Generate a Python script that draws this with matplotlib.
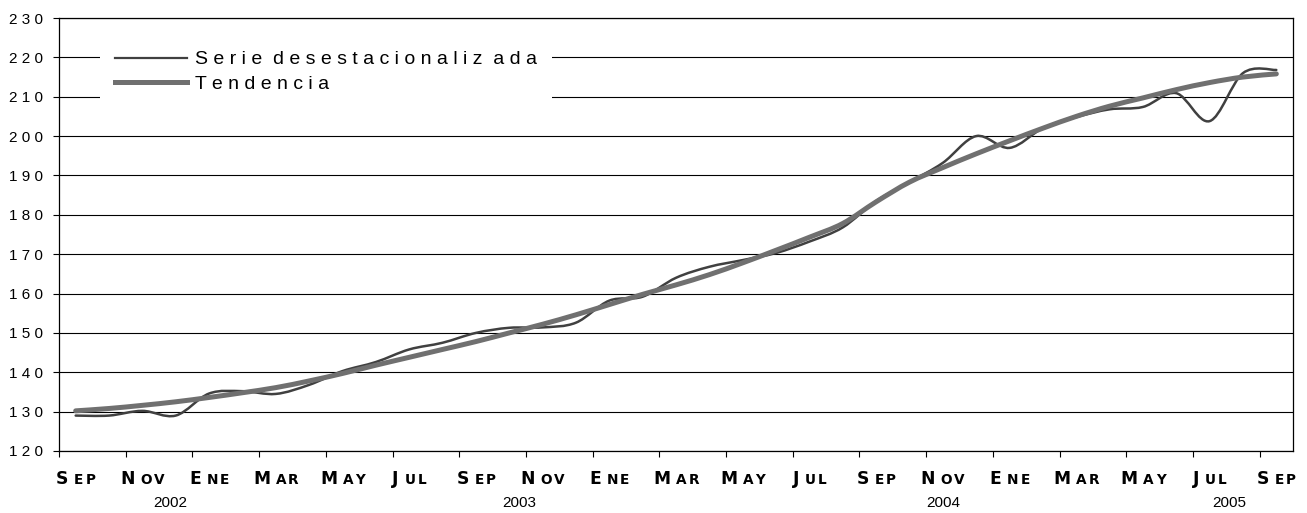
import numpy as np
import matplotlib
matplotlib.use("Agg")
import matplotlib.pyplot as plt
from matplotlib.path import Path
from matplotlib.patches import PathPatch
from matplotlib.lines import Line2D
from matplotlib.offsetbox import TextArea, HPacker, AnnotationBbox

plt.rcParams['font.family'] = ['Liberation Sans', 'DejaVu Sans']

# monthly values, Sep 2002 .. Sep 2005
serie = [129.0, 129.0, 130.2, 129.0, 134.6, 135.2, 134.5, 136.8, 140.3, 142.6,
         145.8, 147.5, 150.0, 151.3, 151.4, 152.6, 158.2, 159.2, 164.0, 166.8,
         168.5, 170.3, 173.2, 176.8, 183.5, 188.3, 193.2, 200.0, 197.0, 202.0,
         204.8, 206.8, 207.4, 210.9, 203.8, 216.0, 216.8]
tendencia = [130.2, 130.8, 131.6, 132.5, 133.6, 134.8, 136.1, 137.8, 139.7, 141.8,
             143.8, 145.8, 147.8, 150.0, 152.2, 154.6, 157.2, 159.8, 162.2, 164.8,
             167.8, 171.0, 174.3, 177.8, 183.3, 188.3, 192.0, 195.5, 198.8, 202.0,
             205.0, 207.6, 209.7, 211.8, 213.6, 215.0, 215.8]

month_labels = ['SEP', 'NOV', 'ENE', 'MAR', 'MAY', 'JUL'] * 3 + ['SEP']
years = ['2002', '2003', '2004', '2005']
year_pos = [2.85, 13.3, 26.0, 34.6]
yticks = list(range(120, 231, 10))

c_serie = '#404040'
c_trend = '#707070'


def smooth_path(xs, ys):
    """ Bezier path through the points, like a spreadsheet 'smoothed line'. """
    pts = np.column_stack([xs, ys]).astype(float)
    n = len(pts)
    verts = [pts[0]]
    codes = [Path.MOVETO]
    for i in range(n - 1):
        p0 = pts[max(i - 1, 0)]
        p1 = pts[i]
        p2 = pts[i + 1]
        p3 = pts[min(i + 2, n - 1)]
        verts += [p1 + (p2 - p0) / 6, p2 - (p3 - p1) / 6, p2]
        codes += [Path.CURVE4] * 3
    return Path(verts, codes)


fig = plt.figure(figsize=(13.07, 5.13), dpi=100)
ax = fig.add_axes([59 / 1307, 1 - 451 / 513, 1234 / 1307, 433 / 513])

x = np.arange(len(serie))
ax.add_patch(PathPatch(smooth_path(x, serie), fill=False, edgecolor=c_serie,
                       lw=1.8, capstyle='round', joinstyle='round', zorder=3))
ax.add_patch(PathPatch(smooth_path(x, tendencia), fill=False, edgecolor=c_trend,
                       lw=3.6, capstyle='round', joinstyle='round', zorder=4))

ax.set_xlim(-0.5, len(serie) - 0.5)
ax.set_ylim(120, 230)

# y axis
ax.set_yticks(yticks)
ax.set_yticklabels([' '.join(str(v)) for v in yticks], fontsize=11)
ax.yaxis.grid(True, color='black', lw=0.8)
ax.set_axisbelow(True)

# x axis: ticks between categories, labels drawn separately
ax.set_xticks(np.arange(-0.5, len(serie) - 1, 2))
ax.set_xticklabels([])
ax.tick_params(direction='out', length=4.5, width=0.8, color='black', pad=7)
for s in ax.spines.values():
    s.set_color('black')
    s.set_linewidth(0.9)

# small caps month labels
for k, lab in enumerate(month_labels):
    big = TextArea(lab[0], textprops=dict(fontsize=12.3, fontweight='bold',
                                          family='DejaVu Sans'))
    smalls = [TextArea(ch, textprops=dict(fontsize=9.8, fontweight='bold',
                                          family='DejaVu Sans')) for ch in lab[1:]]
    rest = HPacker(children=smalls, pad=0, sep=1.5, align='baseline')
    box = HPacker(children=[big, rest], pad=0, sep=4.0, align='baseline')
    ab = AnnotationBbox(box, (2 * k, 0), xycoords=ax.get_xaxis_transform(),
                        xybox=(0, -20), boxcoords='offset points',
                        box_alignment=(0.5, 0.5), frameon=False, annotation_clip=False)
    ax.add_artist(ab)

for pos, yr in zip(year_pos, years):
    ax.text(pos, -0.12, yr, transform=ax.get_xaxis_transform(), ha='center',
            va='center', fontsize=11)

handles = [Line2D([], [], color=c_serie, lw=1.6),
           Line2D([], [], color=c_trend, lw=3.6)]
labels = ['S e r i e  d e s e s t a c i o n a l i z  a d a', 'T e n d e n c i a']
leg = ax.legend(handles, labels, loc='upper left', bbox_to_anchor=(0.0332, 0.958),
                frameon=True, facecolor='white', edgecolor='none', framealpha=1,
                fancybox=False, fontsize=14, handlelength=3.75, handletextpad=0.4,
                borderpad=0.75, labelspacing=0.36, borderaxespad=0)
leg.set_zorder(10)

fig.savefig('out.png', dpi=100)
